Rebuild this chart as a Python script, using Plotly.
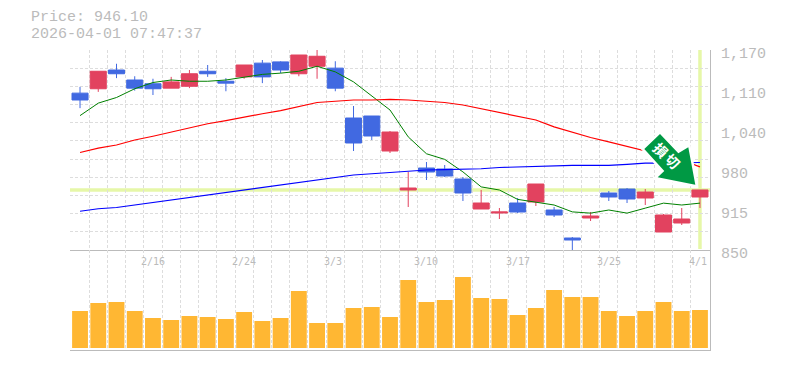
import plotly.graph_objects as go
from plotly.subplots import make_subplots

dates = ["2/10","2/12","2/13","2/14","2/16","2/17","2/18","2/19","2/20","2/24","2/25","2/26","2/27","3/2","3/3",
         "3/4","3/5","3/6","3/9","3/10","3/11","3/12","3/13","3/16","3/17","3/18","3/19","3/21","3/24","3/25",
         "3/26","3/27","3/30","3/31","4/1"]
open_ = [1101,1108,1138,1122,1116,1109,1112,1136,1120,1127,1149,1151,1132,1144,1141,1061.2,1064.4,1008.4,946,981.2,979.6,963.6,915.6,909.2,925.2,926.8,914,869.2,901.2,941.2,947.6,933.2,878.8,893.2,934.8]
high_ = [1111,1136,1148,1128,1124,1127,1138,1146,1125,1146,1154,1152,1162,1170,1152,1080.4,1064.4,1040.4,974.8,990.8,986,966.8,946,917.2,933.2,955.6,918.8,870.8,910.8,944.4,949.2,947.6,907.6,917.2,946.1]
low_ = [1077,1103,1125,1105,1098,1109,1109,1127,1104,1124,1117,1133,1128,1124,1104,1008.4,1026,1005.2,918.8,962,966.8,928.4,915.6,899.6,909.2,920.4,902.8,848.4,896.4,928.4,925.2,922,878.8,890,917.2]
close_ = [1090,1136,1132,1109,1108,1119,1132,1132,1117,1146,1127,1138,1162,1160,1109,1021.2,1032.4,1038.8,949.2,974.8,968.4,941.2,925.2,910.8,910.8,955.6,906,866,904.4,934.8,931.6,942.8,906,899.6,946.1]
ma_short = [1065,1085,1094,1108,1118,1122,1120,1120,1122,1127,1131,1133,1136,1144,1135,1119,1097,1074,1031,1004,995,975,951,946,931,927,922,911,909,914,909,917,925,922,925]
ma_mid = [1006,1013,1018,1026,1032,1039,1045,1052,1057,1063,1068,1073,1079,1086,1088,1090,1090,1091,1090,1088,1086,1082,1076,1071,1064,1058,1047,1038,1030,1023,1016,1008,1002,994,983]
ma_long = [912,916,918,922,926,930,934,939,942,946,950,954,959,962,967,970,972,974,976,978,978.5,979,980,982,983,984,985.5,985.5,985.5,985.5,987,989,989,990,990]
volume = [370,450,460,370,300,280,320,310,290,360,270,300,570,250,250,400,410,310,680,460,480,710,500,490,330,400,580,510,510,370,320,370,460,370,380]

y_tick_vals = [1170,1106,1042,978,914,850]
y_tick_text = ["1,170","1,110","1,040","980","915","850"]
x_tick_idx = [4,9,14,19,24,29,34]
x_tick_text = ["2/16","2/24","3/3","3/10","3/17","3/25","4/1"]
last_price = 946.1
title_lines = ["Price: 946.10", "2026-04-01 07:47:37"]
arrow_label = ["損", "切"]

PAGE = 8  # the browser's default body margin
W, H = 785 - PAGE, 370 - PAGE
L, R, T, B = 70, 710, 50, 350
def px(x): return (x - L) / (R - L)
def py(y): return (B - y) / (B - T)

idx = list(range(len(dates)))
fig = make_subplots(rows=2, cols=1, shared_xaxes=True, vertical_spacing=0, row_heights=[2/3, 1/3])

for vals, col, wd in [(ma_short, "#008000", 1), (ma_mid, "#ff0000", 1.2), (ma_long, "#0000ff", 1.2)]:
    fig.add_trace(go.Scatter(x=idx, y=vals, mode="lines", line=dict(color=col, width=wd), hoverinfo="skip"), row=1, col=1)

fig.add_trace(go.Candlestick(x=idx, open=open_, high=high_, low=low_, close=close_, whiskerwidth=0,
    increasing=dict(line=dict(color="#e2425f", width=1), fillcolor="#e2425f"),
    decreasing=dict(line=dict(color="#4169e1", width=1), fillcolor="#4169e1")), row=1, col=1)
fig.add_trace(go.Bar(x=idx, y=volume, marker=dict(color="#ffb733", line=dict(width=0)), width=0.87), row=2, col=1)

grid = dict(showgrid=True, gridcolor="#dddddd", griddash="3px,2px", gridwidth=1, zeroline=False)
xcommon = dict(range=[-0.55, 34.55], tick0=0.5, dtick=1, showticklabels=False, ticks="",
               rangeslider=dict(visible=False), showline=True, linecolor="#bbbbbb", linewidth=1, **grid)
fig.update_xaxes(**xcommon)
fig.update_yaxes(row=1, col=1, range=[850, 1170], tick0=850, dtick=320/11, showticklabels=False, ticks="",
                 side="right", showline=True, linecolor="#bbbbbb", linewidth=1, **grid)
fig.update_yaxes(row=2, col=1, range=[-20, 980], showgrid=False, zeroline=False, showticklabels=False, ticks="",
                 side="right", showline=True, linecolor="#bbbbbb", linewidth=1)

shapes = [
    dict(type="line", xref="x", yref="paper", x0=34, x1=34, y0=py(249), y1=1, line=dict(color="#e6f7a8", width=3.5), layer="below"),
    dict(type="line", xref="paper", yref="y", x0=0, x1=1, y0=last_price, y1=last_price, line=dict(color="#e6f7a8", width=3.5), layer="below"),
]
arrow_pts = [(660,134),(644.3,149),(664.3,171),(657.7,177.3),(695.3,184.7),(688.3,147.3),(678.3,153.3)]
path = "M " + " L ".join(f"{px(x):.5f},{py(y):.5f}" for x, y in arrow_pts) + " Z"
shapes.append(dict(type="path", xref="paper", yref="paper", path=path, fillcolor="#009944",
                   line=dict(color="white", width=5), layer="above"))
shapes.append(dict(type="path", xref="paper", yref="paper", path=path, fillcolor="#009944",
                   line=dict(width=0), layer="above"))

mono = "Liberation Mono"
ann = []
for v, t in zip(y_tick_vals, y_tick_text):
    ann.append(dict(xref="paper", yref="y", x=px(719), y=v, yshift=-4, text=t, showarrow=False,
                    xanchor="left", yanchor="middle", font=dict(family=mono, size=15, color="#bbbbbb")))
for i, t in zip(x_tick_idx, x_tick_text):
    ann.append(dict(xref="x", yref="paper", x=i, y=py(261), text=t, showarrow=False, xanchor="center", yanchor="middle",
                    xshift=-2 if len(t) == 3 else 0, font=dict(family="DejaVu Sans Mono", size=10, color="#bbbbbb")))
for line, yy in zip(title_lines, [18, 34]):
    ann.append(dict(xref="paper", yref="paper", x=px(29), y=py(yy), text=line, showarrow=False, xanchor="left", yanchor="middle",
                    font=dict(family=mono, size=15, color="#bbbbbb")))
for ch, (xx, yy) in zip(arrow_label, [(661, 150), (673, 161)]):
    ann.append(dict(xref="paper", yref="paper", x=px(xx), y=py(yy), text="<b>" + ch + "</b>", showarrow=False, textangle=45,
                    xanchor="center", yanchor="middle", font=dict(family="Noto Sans CJK JP", size=14, color="white")))

fig.update_layout(width=W, height=H, margin=dict(l=L-PAGE, r=785-R, t=T-PAGE, b=370-B), autosize=False,
                  paper_bgcolor="white", plot_bgcolor="white", showlegend=False, boxmode="overlay", boxgap=0.12, boxgroupgap=0,
                  bargap=0.1, shapes=shapes, annotations=ann)
fig.write_html("out.html")
